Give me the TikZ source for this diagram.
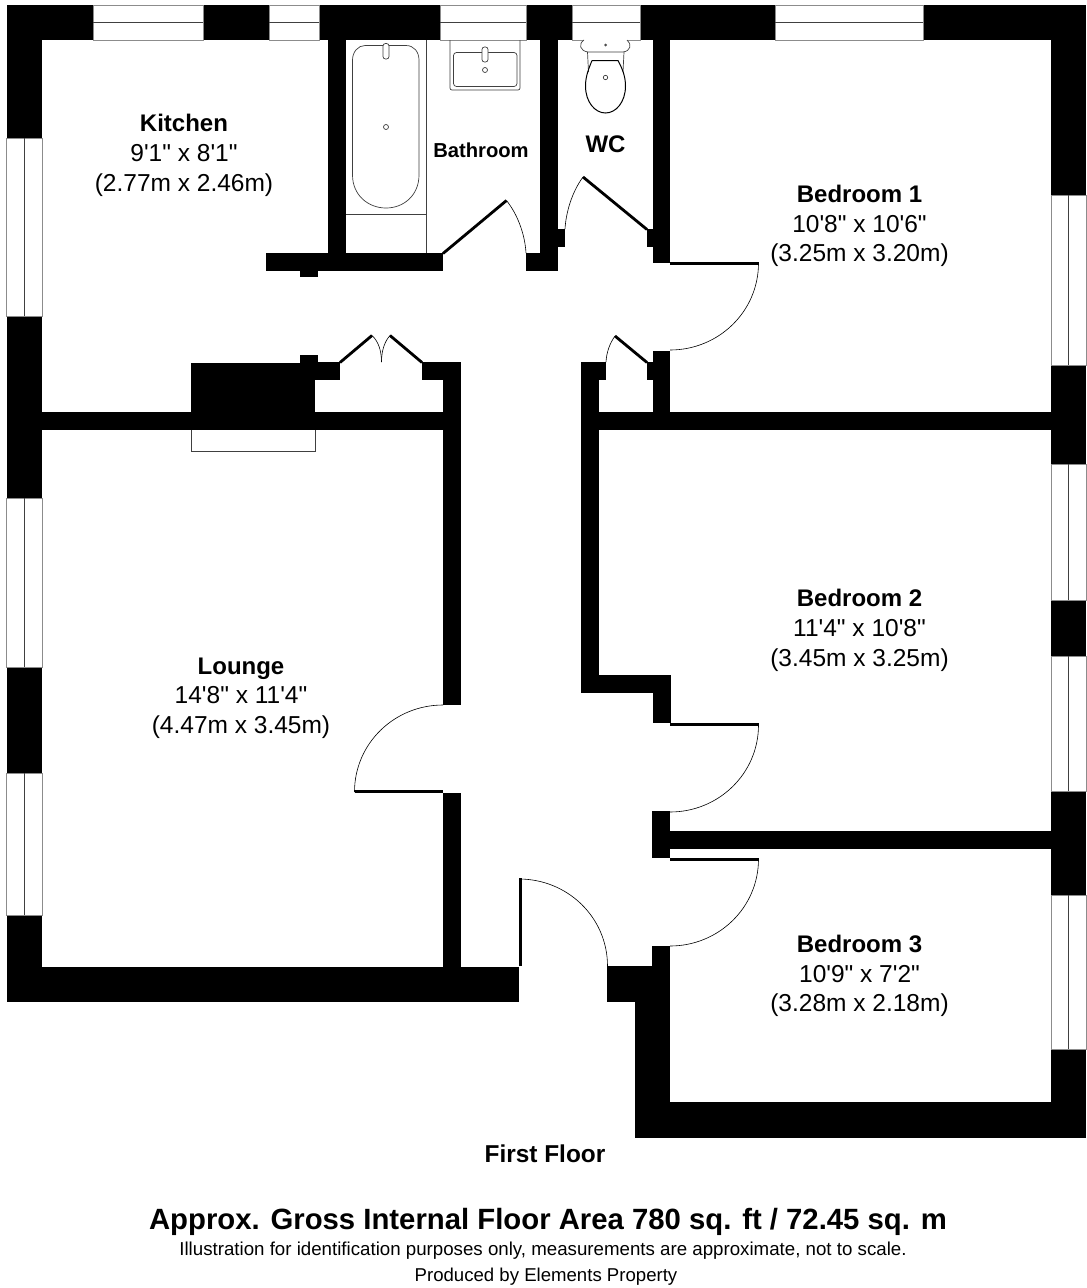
\documentclass[tikz,border=0pt]{standalone}
\usepackage{fontspec}
\newfontfamily\planfont{Liberation Sans}
\newcommand{\roomtitle}[1]{{\bfseries\fontsize{24}{29.7}\selectfont #1}}
\tikzset{
  wall/.style={fill=black},
  fitting/.style={draw=black!75,line width=.7pt,fill=none},
  pan/.style={draw=black,line width=1pt,fill=none},
  glass/.style={draw=black!45,line width=.8pt,fill=white},
  leaf/.style={draw=black,line width=2.8pt},
  swing/.style={draw=black,line width=.6pt},
  room/.style={font=\planfont\fontsize{24.5}{29.7}\selectfont,align=center,inner sep=0pt},
  roomname/.style={font=\planfont\bfseries\fontsize{20.2}{25}\selectfont,align=center,inner sep=0pt}
}
\begin{document}
\begin{tikzpicture}[x=1pt,y=-1pt]
  \useasboundingbox (0,0) rectangle (1087,1288);
  \fill[white] (0,0) rectangle (1087,1288);
  % outer walls and partitions
  \foreach \xa/\ya/\xb/\yb in {6.5/5/1086/40, 6.5/5/42/1002, 1051/5/1086/1138, 6.5/967/519/1002,
    607/966/670/1002, 635/966/670/1138, 652/946/670/1102, 635/1102/1086/1138,
    328/40/346/271, 266/253/443/271, 300/270/318/277, 540/40/558/271, 526/253/558/271,
    557/229/565/247, 653/40/670/263, 647/229/654/247, 653/351/670/430, 647/362/654/380,
    581/362/599/693, 598/362/606/380, 581/675/670.5/693, 652.5/675/670.5/723, 581/412/1051/430,
    191/363/315/430, 300/355/318/364, 315/362/340/380, 422/362/461/380, 443/362/461/705,
    443/793/461/967, 42/412/461/430, 652/811/670/858, 669/831/1051/849} {
    \fill[wall] (\xa,\ya) rectangle (\xb,\yb);
  }
  % windows
  \foreach \xa/\xb in {93/203, 269/319, 440/526, 572/640, 775/923} {
    \draw[glass] (\xa,5) rectangle (\xb,40);
    \draw[fitting] (\xa,22) -- (\xb,22);
  }
  \foreach \ya/\yb in {138/316, 498/667, 773/915} {
    \draw[glass] (6.5,\ya) rectangle (42,\yb);
    \draw[fitting] (24.5,\ya) -- (24.5,\yb);
  }
  \foreach \ya/\yb in {195/365, 464/600, 656/791, 895/1049} {
    \draw[glass] (1051,\ya) rectangle (1086,\yb);
    \draw[fitting] (1068.5,\ya) -- (1068.5,\yb);
  }
  % doors
  \foreach \xa/\ya/\xb/\yb in {670/262/759/264.5, 355/790/443/793, 670/723/759/726, 670/858/759/861, 519/878/522/966} {
    \fill[wall] (\xa,\ya) rectangle (\xb,\yb);
  }
  \foreach \cx/\cy/\sx/\sy in {670/263/1/1, 670/725/1/1, 670/859/1/1, 443/792/-1/-1, 519/966/1/-1} {
    \draw[swing,shift={(\cx,\cy)},xscale=\sx,yscale=\sy] (88.5,0) .. controls (88.5,48.6) and (48.6,87) .. (0,87);
  }
  \draw[leaf] (443,253.5) -- (506.5,200.5);
  \draw[swing] (506.5,200.5) .. controls (518,215) and (525,235) .. (526,253);
  \draw[leaf] (647,229.5) -- (583,177);
  \draw[swing] (583,177) .. controls (572,192) and (566,212) .. (565,229);
  \draw[leaf] (340,362.5) -- (372,335.5);
  \draw[leaf] (422,362.5) -- (390,335.5);
  \draw[swing] (372,335.5) .. controls (378,341) and (381.5,350) .. (381.5,362);
  \draw[swing] (390,335.5) .. controls (385,341) and (381.5,350) .. (381.5,362);
  \draw[leaf] (647,362.5) -- (615,336);
  \draw[swing] (615,336) .. controls (610,343) and (606.5,352) .. (606,362);
  % hearth
  \draw[fitting] (191,430) -- (191,451) -- (315,451) -- (315,430);
  % bath
  \draw[fitting] (346,214) -- (426,214) (426,40) -- (426,253);
  \draw[fitting] (365,45.5) -- (406,45.5) .. controls (414,45.5) and (419,52) .. (419,60) -- (419,175)
    .. controls (419,195) and (404,208) .. (386,208) .. controls (368,208) and (352.5,195) .. (352.5,175)
    -- (352.5,60) .. controls (352.5,52) and (358,45.5) .. (365,45.5);
  \draw[fitting,fill=white,rounded corners=2.5pt] (383,43.5) rectangle (389,59);
  \draw[fitting] (386,127) circle (2.5pt);
  % basin
  \draw[fitting,rounded corners=2pt] (450,40) -- (450,90) -- (520,90) -- (520,40);
  \draw[fitting,rounded corners=3pt] (453.5,52.5) rectangle (517,86.5);
  \draw[fitting,fill=white,rounded corners=2.5pt] (482,47) rectangle (488,62);
  \draw[fitting] (485,70) circle (2.5pt);
  % toilet
  \draw[fitting,fill=white] (584,40) .. controls (578,44) and (580,51) .. (588,52) -- (623,52)
    .. controls (631,51) and (632,44) .. (627,40);
  \draw[fitting] (587.5,52) -- (588.5,72) (624,52) -- (623,72);
  \draw[pan] (592,60.5) -- (618,60.5) .. controls (622,68) and (625.5,76) .. (625.5,86)
    .. controls (625.5,102) and (616,113) .. (605.5,113) .. controls (595,113) and (585.5,102) .. (585.5,86)
    .. controls (585.5,76) and (589,68) .. (592,60.5);
  \draw[fitting] (605.5,77.5) circle (2.2pt);
  \fill[black!70] (605.5,45) circle (1.5pt);
  % labels
  \node[room] (kitchen) at (184,155.5) {\roomtitle{Kitchen}\\9'1" x 8'1"\\(2.77m x 2.46m)};
  \node[roomname] (bathroom) at (481,150) {Bathroom};
  \node[roomname,font=\planfont\bfseries\fontsize{24}{29}\selectfont] (wc) at (605.5,144) {WC};
  \node[room] (bedroomone) at (859.5,226) {\roomtitle{Bedroom 1}\\10'8" x 10'6"\\(3.25m x 3.20m)};
  \node[room] (lounge) at (241,698) {\roomtitle{Lounge}\\14'8" x 11'4"\\(4.47m x 3.45m)};
  \node[room] (bedroomtwo) at (859.5,630.5) {\roomtitle{Bedroom 2}\\11'4" x 10'8"\\(3.45m x 3.25m)};
  \node[room] (bedroomthree) at (859.5,976) {\roomtitle{Bedroom 3}\\10'9" x 7'2"\\(3.28m x 2.18m)};
  \node[roomname,font=\planfont\bfseries\fontsize{24.4}{28}\selectfont] (floor) at (545,1154) {First Floor};
  \node[roomname,font=\planfont\bfseries\fontsize{29.3}{34}\selectfont] (area) at (548,1221.5) {Approx. Gross Internal Floor Area 780 sq. ft / 72.45 sq. m};
  \node[room,font=\planfont\fontsize{18.7}{22}\selectfont] (note) at (543,1251) {Illustration for identification purposes only, measurements are approximate, not to scale.};
  \node[room,font=\planfont\fontsize{18.6}{22}\selectfont] (producer) at (546,1277) {Produced by Elements Property};
\end{tikzpicture}
\end{document}
